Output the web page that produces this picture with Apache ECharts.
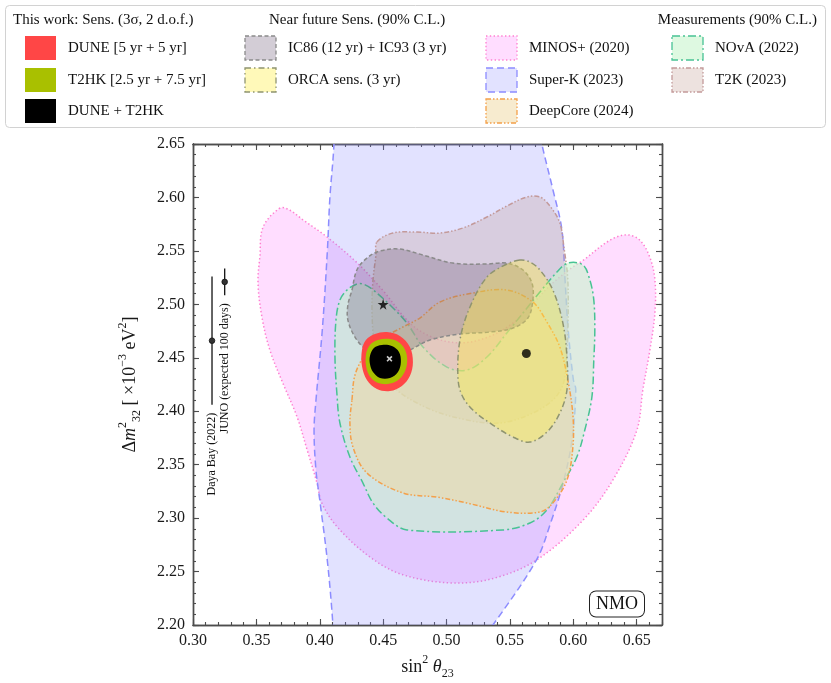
<!DOCTYPE html>
<html>
<head>
<meta charset="UTF-8">
<title>NMO: sin2 theta23 vs dm2_32</title>
<script src="https://cdn.jsdelivr.net/npm/echarts@6/dist/echarts.min.js"></script>
<style>html,body{margin:0;padding:0;background:#fff}#main{width:831px;height:683px}</style>
</head>
<body>
<div id="main"></div>
<script>
var FONT = '"Liberation Serif", "DejaVu Serif", serif';

// axes
var xRange = [0.30, 0.67];
var yRange = [2.20, 2.65];
var majorStep = 0.05;
var minorStep = 0.01;

// contours, [sin2 theta23, dm2_32]
var minosPlus = [[0.3686,2.590],[0.3552,2.572],[0.3528,2.545],[0.3513,2.520],[0.3544,2.488],[0.3607,2.457],[0.371,2.426],[0.382,2.395],[0.390,2.364],[0.3978,2.333],[0.4017,2.314],[0.4136,2.292],[0.4396,2.2636],[0.4656,2.247],[0.505,2.2393],[0.5382,2.244],[0.5713,2.261],[0.6076,2.298],[0.6312,2.3356],[0.6501,2.382],[0.6549,2.420],[0.6604,2.457],[0.6644,2.492],[0.6644,2.523],[0.6604,2.544],[0.6525,2.560],[0.6423,2.565],[0.6289,2.560],[0.6076,2.541],[0.5997,2.535],[0.5839,2.520],[0.5681,2.501],[0.5524,2.4825],[0.5319,2.469],[0.5106,2.464],[0.4893,2.469],[0.4711,2.4825],[0.4498,2.513],[0.4293,2.539],[0.4057,2.563],[0.3868,2.579],[0.3765,2.588]];
var superK = [[0.4125,2.72],[0.4112,2.65],[0.408,2.60],[0.406,2.55],[0.402,2.476],[0.397,2.41],[0.3955,2.382],[0.397,2.345],[0.400,2.317],[0.406,2.26],[0.4104,2.20],[0.4125,2.15],[0.505,2.15],[0.5366,2.20],[0.571,2.261],[0.582,2.295],[0.592,2.333],[0.599,2.373],[0.602,2.42],[0.600,2.43],[0.596,2.476],[0.5935,2.523],[0.591,2.57],[0.584,2.607],[0.5752,2.65],[0.563,2.72]];
var nova = [[0.4293,2.519],[0.4215,2.5134],[0.4159,2.504],[0.4128,2.4853],[0.412,2.4507],[0.4136,2.4152],[0.4159,2.389],[0.4238,2.3572],[0.4341,2.3328],[0.442,2.3141],[0.453,2.3001],[0.4688,2.2889],[0.5445,2.2889],[0.5658,2.2954],[0.5792,2.3076],[0.5918,2.3328],[0.6028,2.3572],[0.6091,2.3824],[0.6147,2.4133],[0.6162,2.4479],[0.617,2.476],[0.6162,2.504],[0.6131,2.5227],[0.6076,2.5368],[0.5957,2.5386],[0.5871,2.5302],[0.5737,2.5115],[0.5476,2.4732],[0.5319,2.4507],[0.5161,2.4385],[0.5003,2.4413],[0.4814,2.4601],[0.4688,2.4825],[0.4554,2.4993],[0.4412,2.5143],[0.4341,2.519]];
var t2k = [[0.4451,2.5583],[0.4577,2.5667],[0.4767,2.5676],[0.4948,2.5667],[0.5129,2.5714],[0.5319,2.5817],[0.5476,2.592],[0.5634,2.6004],[0.5737,2.6004],[0.5816,2.592],[0.5894,2.5761],[0.5926,2.5536],[0.5957,2.5227],[0.5957,2.476],[0.5942,2.4432],[0.5918,2.4245],[0.5839,2.4105],[0.5681,2.3983],[0.5476,2.3899],[0.5319,2.389],[0.5161,2.3918],[0.4948,2.3983],[0.4767,2.4077],[0.4609,2.4198],[0.4475,2.4385],[0.4427,2.4666],[0.4412,2.4947],[0.442,2.5227],[0.4443,2.5461]];
var deepCore = [[0.4254,2.4105],[0.4278,2.4339],[0.4356,2.4526],[0.4475,2.4666],[0.4656,2.4788],[0.479,2.4872],[0.4948,2.5022],[0.5208,2.5106],[0.5476,2.5134],[0.5681,2.5022],[0.5792,2.4834],[0.5894,2.4601],[0.5957,2.4292],[0.5997,2.3964],[0.5997,2.3665],[0.595,2.3356],[0.5839,2.3141],[0.5737,2.3057],[0.5476,2.3057],[0.5161,2.3141],[0.4924,2.3197],[0.4656,2.3235],[0.4372,2.3422],[0.4262,2.3665],[0.4238,2.389]];
var icecube = [[0.4254,2.5134],[0.4293,2.5321],[0.4372,2.5433],[0.4475,2.5499],[0.4632,2.5517],[0.4814,2.5461],[0.505,2.5386],[0.5319,2.5377],[0.5476,2.5386],[0.5603,2.5321],[0.5674,2.5199],[0.5681,2.504],[0.5642,2.4872],[0.5524,2.4778],[0.5342,2.4741],[0.5106,2.4722],[0.4869,2.4666],[0.4711,2.4573],[0.4554,2.4498],[0.4372,2.4573],[0.4278,2.4694],[0.4222,2.4853],[0.4222,2.4993]];
var orca = [[0.5579,2.5414],[0.5461,2.5368],[0.5319,2.5255],[0.5185,2.4975],[0.5106,2.4666],[0.509,2.432],[0.5121,2.4152],[0.5208,2.4011],[0.5366,2.3871],[0.5524,2.3759],[0.5658,2.3712],[0.5792,2.3805],[0.5894,2.3983],[0.595,2.4198],[0.595,2.4507],[0.5918,2.4825],[0.5839,2.5134],[0.5737,2.5321],[0.5658,2.5396]];
var dune = [[0.4333,2.4573],[0.4364,2.4666],[0.4435,2.4722],[0.453,2.4741],[0.4632,2.4704],[0.4711,2.4601],[0.4735,2.446],[0.4711,2.4329],[0.4648,2.4236],[0.4554,2.4189],[0.4451,2.4208],[0.4372,2.4292],[0.4333,2.4423]];
var t2hk = [[0.4364,2.4526],[0.4396,2.4619],[0.4459,2.4666],[0.4554,2.4675],[0.4632,2.4638],[0.468,2.4554],[0.4688,2.4442],[0.4656,2.4339],[0.4593,2.4273],[0.4498,2.4254],[0.442,2.4292],[0.4372,2.4385]];
var duneT2hk = [[0.4396,2.4516],[0.4427,2.4591],[0.449,2.4619],[0.4569,2.461],[0.4625,2.4554],[0.464,2.446],[0.4617,2.4367],[0.4554,2.4311],[0.4475,2.4311],[0.442,2.4367],[0.4396,2.4442]];

// best fits
var starPoint = [[0.450, 2.500]];
var dotPoint = [[0.563, 2.454]];
var crossPoint = [[0.455, 2.449]];

// reactor measurements
var barX = [0.315, 0.325];
var barCenter = [2.466, 2.521];
var barHalf = [0.060, 0.0125];
var barLabels = ['Daya Bay (2022)', 'JUNO (expected 100 days)'];

var legendHeaders = ['This work: Sens. (3\u03c3, 2 d.o.f.)', 'Near future Sens. (90% C.L.)', 'Measurements (90% C.L.)'];

// name, points, fill, stroke, dash, legend column, legend row (drawn in this order)
var contours = [
  ['MINOS+ (2020)', minosPlus, 'rgba(255,150,255,0.32)', '#ff7fcf', [1.4,2.4], 2, 0],
  ['Super-K (2023)', superK, 'rgba(140,140,255,0.25)', '#8c8cff', [7,4], 2, 1],
  ['T2K (2023)', t2k, 'rgba(190,150,140,0.28)', '#c39a9a', [5,2,1.5,2,1.5,2], 3, 1],
  ['NOvA (2022)', nova, 'rgba(200,245,205,0.60)', '#48c294', [8,3,2,3], 3, 0],
  ['DeepCore (2024)', deepCore, 'rgba(240,215,160,0.50)', '#f4a04a', [5,2,1.5,2,1.5,2], 2, 2],
  ['IC86 (12 yr) + IC93 (3 yr)', icecube, 'rgba(110,90,120,0.30)', '#8a8a8a', [4,2.5], 1, 0],
  ['ORCA sens. (3 yr)', orca, 'rgba(255,238,60,0.36)', '#8f9470', [6,3,1.5,3], 1, 1],
  ['DUNE [5 yr + 5 yr]', dune, '#ff4646', null, null, 0, 0],
  ['T2HK [2.5 yr + 7.5 yr]', t2hk, '#a9c000', null, null, 0, 1],
  ['DUNE + T2HK', duneT2hk, '#000000', null, null, 0, 2]
];

var series = contours.map(function (c) {
  var pts = c[1];
  return {
    type: 'custom', name: c[0], data: pts, clip: true, silent: true,
    xAxisIndex: 0, yAxisIndex: 0,
    encode: { x: 0, y: 1 },
    renderItem: function (params, api) {
      if (params.dataIndex !== 0) return null;
      var p = pts.map(function (d) { return api.coord(d); });
      return {
        type: 'polygon',
        shape: { points: p, smooth: 0.35 },
        style: { fill: c[2], stroke: c[3] || null, lineWidth: c[3] ? 1.5 : 0, lineDash: c[4] || null }
      };
    }
  };
});

series.push({
  type: 'scatter', data: starPoint, symbol: 'path://M50,0 L61,35 L98,35 L68,57 L79,91 L50,70 L21,91 L32,57 L2,35 L39,35 Z',
  symbolSize: 11, itemStyle: { color: '#000' }, silent: true, z: 5
});
series.push({
  type: 'scatter', data: dotPoint, symbol: 'circle', symbolSize: 9, itemStyle: { color: '#000' }, silent: true, z: 5
});
series.push({
  type: 'scatter', data: crossPoint, symbol: 'path://M0,2 L2,0 L10,8 L8,10 Z M8,0 L10,2 L2,10 L0,8 Z',
  symbolSize: 6, itemStyle: { color: '#fff' }, silent: true, z: 6
});
series.push({
  type: 'custom', silent: true, z: 5,
  data: barX.map(function (x, i) { return [x, barCenter[i], barCenter[i] - barHalf[i], barCenter[i] + barHalf[i]]; }),
  encode: { x: 0, y: 1 },
  renderItem: function (params, api) {
    var i = params.dataIndex;
    var top = api.coord([api.value(0), api.value(3)]);
    var bot = api.coord([api.value(0), api.value(2)]);
    var mid = api.coord([api.value(0), api.value(1)]);
    return {
      type: 'group',
      children: [
        { type: 'line', shape: { x1: top[0], y1: top[1], x2: bot[0], y2: bot[1] }, style: { stroke: '#111', lineWidth: 1.3 } },
        { type: 'circle', shape: { cx: mid[0], cy: mid[1], r: 2.8 }, style: { fill: '#333', stroke: '#111', lineWidth: 0.8 } },
        { type: 'text', x: bot[0], y: bot[1] + 8, rotation: Math.PI / 2,
          style: { text: barLabels[i], font: '12px ' + FONT, fill: '#111', align: 'right', verticalAlign: 'middle' } }
      ]
    };
  }
});

function axis(dim, pos, step, len, labels) {
  var r = dim === 'x' ? xRange : yRange;
  return {
    type: 'value', position: pos, gridIndex: 0, min: r[0], max: r[1], interval: step,
    axisLine: { show: true, onZero: false, lineStyle: { color: '#4d4d4d', width: 1.4 } },
    axisTick: { show: true, inside: true, length: len, lineStyle: { color: '#4d4d4d', width: 1.1 } },
    axisLabel: {
      show: labels, margin: 8, fontFamily: FONT, fontSize: 16, color: '#1a1a1a',
      showMinLabel: true, showMaxLabel: dim !== 'x',
      formatter: function (v) { return v.toFixed(2); }
    },
    splitLine: { show: false }, minorTick: { show: false }
  };
}

var rich = {
  n: { fontFamily: FONT, fontSize: 18, color: '#1a1a1a', lineHeight: 26 },
  i: { fontFamily: FONT, fontSize: 18, color: '#1a1a1a', lineHeight: 26, fontStyle: 'italic' },
  sp: { fontFamily: FONT, fontSize: 12, color: '#1a1a1a', lineHeight: 12, verticalAlign: 'top' },
  sb: { fontFamily: FONT, fontSize: 12, color: '#1a1a1a', lineHeight: 12, verticalAlign: 'bottom' }
};

var xMain = axis('x', 'bottom', majorStep, 6, true);
xMain.name = '{n|sin}{sp|2}{n| }{i|\u03b8}{sb|23}';
xMain.nameLocation = 'middle';
xMain.nameGap = 25;
xMain.nameTextStyle = { rich: rich };
var yMain = axis('y', 'left', majorStep, 6, true);
yMain.name = '{n|\u0394}{i|m}{sp|2}{sb|32}{n| [ \u00d710}{sp|\u22123}{n| eV}{sp|2}{n|]}';
yMain.nameLocation = 'middle';
yMain.nameGap = 50;
yMain.nameTextStyle = { rich: rich };

// legend (drawn as graphic)
var colX = [25, 245, 486, 672];
var rowY = [36, 68, 99];
var graphics = [
  { type: 'rect', shape: { x: 5.5, y: 5.5, width: 820, height: 122, r: 4 }, style: { fill: '#fff', stroke: '#d2d2d2', lineWidth: 1 } },
  { type: 'text', x: 13, y: 20, style: { text: legendHeaders[0], font: '15px ' + FONT, fill: '#111', verticalAlign: 'middle' } },
  { type: 'text', x: 269, y: 20, style: { text: legendHeaders[1], font: '15px ' + FONT, fill: '#111', verticalAlign: 'middle' } },
  { type: 'text', x: 817, y: 20, style: { text: legendHeaders[2], font: '15px ' + FONT, fill: '#111', align: 'right', verticalAlign: 'middle' } },
  { type: 'text', x: 617, y: 604, z: 10,
    style: { text: 'NMO', font: '18px ' + FONT, fill: '#111', align: 'center', verticalAlign: 'middle',
      padding: [4, 6, 3, 6], backgroundColor: '#fff', borderColor: '#222', borderWidth: 1, borderRadius: 6 } }
];
contours.forEach(function (c) {
  var x = colX[c[5]], y = rowY[c[6]];
  graphics.push({ type: 'rect', shape: { x: x, y: y, width: 31, height: 24 },
    style: { fill: c[2], stroke: c[3] || null, lineWidth: c[3] ? 1.3 : 0, lineDash: c[4] || null } });
  graphics.push({ type: 'text', x: x + 43, y: y + 12,
    style: { text: c[0], font: '15px ' + FONT, fill: '#111', verticalAlign: 'middle' } });
});

var chart = echarts.init(document.getElementById('main'));
chart.setOption({
  animation: false,
  backgroundColor: '#fff',
  grid: { left: 193, right: 169, top: 144, bottom: 58, containLabel: false, outerBoundsMode: 'none' },
  xAxis: [xMain, axis('x', 'bottom', minorStep, 3, false), axis('x', 'top', majorStep, 6, false), axis('x', 'top', minorStep, 3, false)],
  yAxis: [yMain, axis('y', 'left', minorStep, 3, false), axis('y', 'right', majorStep, 6, false), axis('y', 'right', minorStep, 3, false)],
  series: series,
  graphic: graphics
});
</script>
</body>
</html>
